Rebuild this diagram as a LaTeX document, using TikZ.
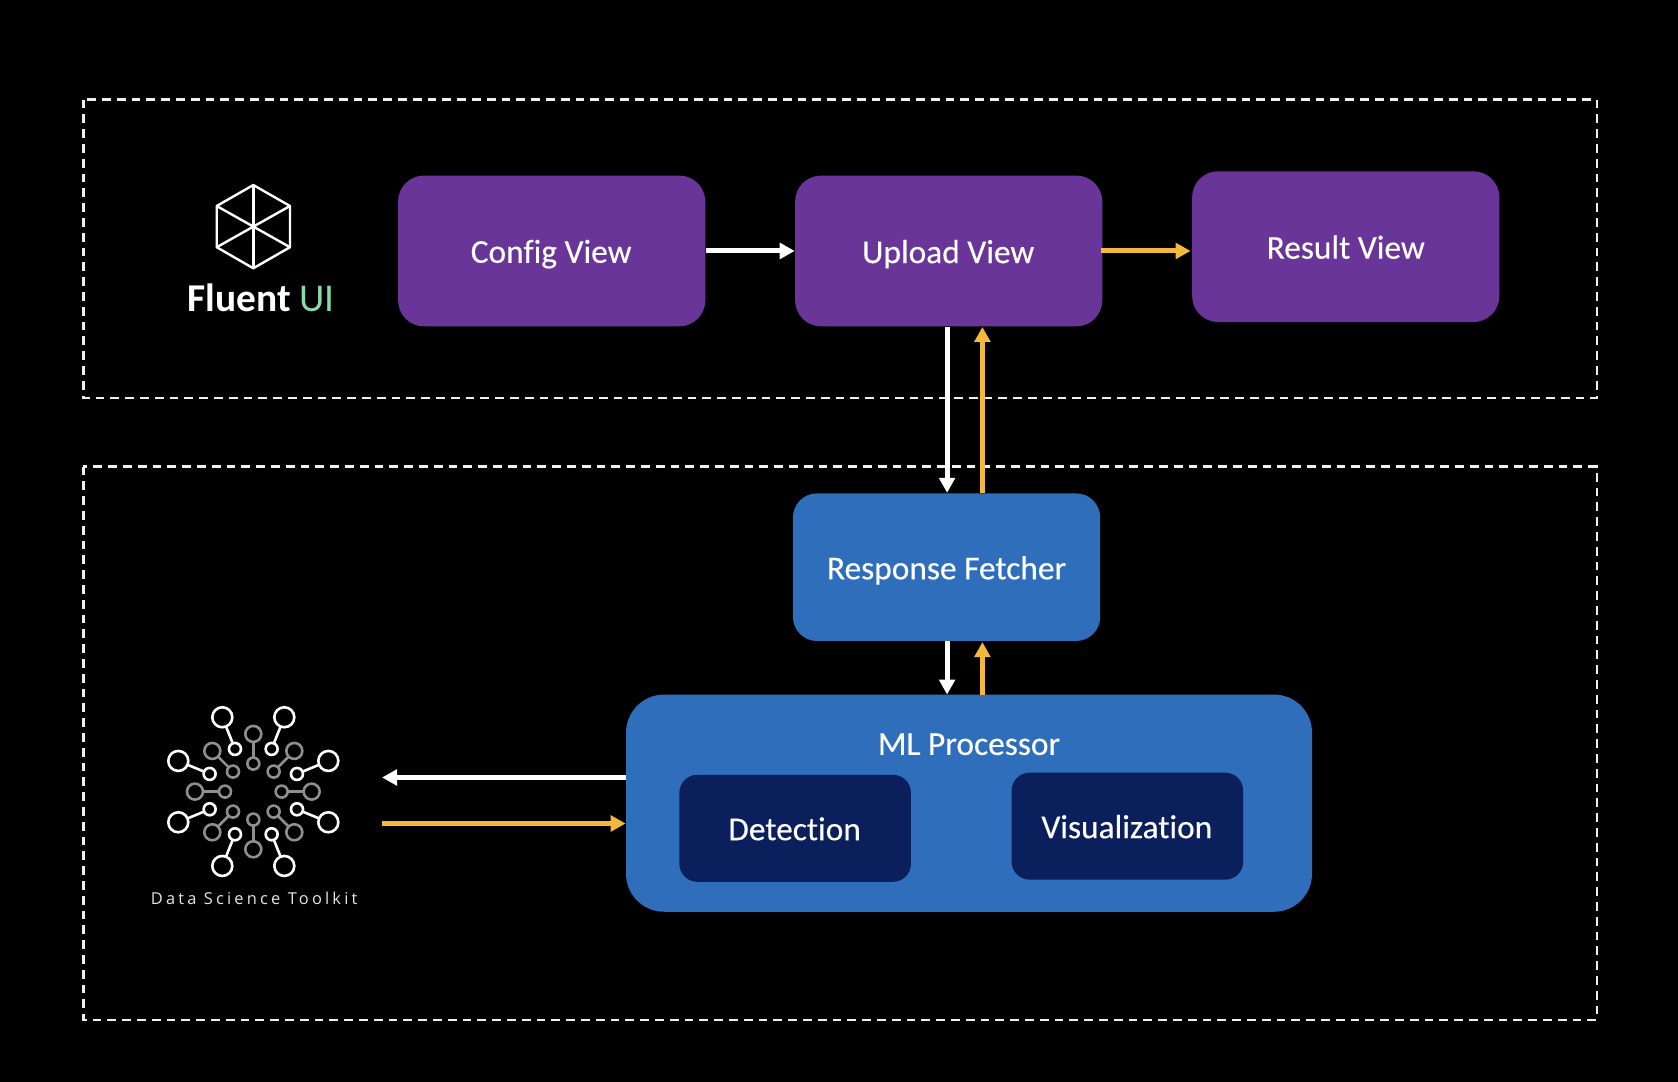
\documentclass[tikz,border=0pt]{standalone}
\usepackage{fontspec}
\usetikzlibrary{arrows.meta}
\setmainfont[Ligatures=CommonOff,FakeBold=0.25]{Carlito}
\newfontfamily\logofont[Ligatures=CommonOff]{Carlito}
\newfontfamily\dsfont[LetterSpace=19.5]{Open Sans}
\definecolor{viewpurple}{HTML}{693599}
\definecolor{procblue}{HTML}{2F6EBA}
\definecolor{navybox}{HTML}{0A1F5C}
\definecolor{flowyellow}{HTML}{F4B93B}
\definecolor{uigreen}{HTML}{8BDBAA}
\definecolor{logogray}{HTML}{8E8E8E}
\definecolor{dashwhite}{HTML}{F0F0F0}
\tikzset{
  x=0.5351pt,y=-0.5351pt,
  boxlabel/.style={text=white,font=\fontsize{16.7}{20}\selectfont,inner sep=0pt},
  viewbox/.style={fill=viewpurple,rounded corners=13pt,minimum width=153.6pt,minimum height=75.4pt,inner sep=0pt},
  fetchbox/.style={fill=procblue,rounded corners=12pt,minimum width=153.6pt,minimum height=73.8pt,inner sep=0pt},
  mlbox/.style={fill=procblue,rounded corners=19pt,minimum width=343pt,minimum height=108.6pt,inner sep=0pt},
  subbox/.style={fill=navybox,rounded corners=9pt,minimum width=115.8pt,minimum height=53.5pt,inner sep=0pt},
  region/.style={draw=dashwhite,line width=1.15pt,dash pattern=on 4.4pt off 3pt},
  flow/.style={line width=2.5pt,-{Triangle[length=7.5pt,width=7.8pt]}},
  whiteflow/.style={flow,draw=white},
  yellowflow/.style={flow,draw=flowyellow},
  hexline/.style={draw=white,line width=1.2pt,line join=round},
}
\begin{document}
\begin{tikzpicture}
\useasboundingbox[fill=black] (0,0) rectangle (1568,1011);
\draw[region] (78,93) rectangle (1492,372);
\draw[region] (78,436) rectangle (1492,953);

\node[viewbox] (config) at (515.5,234.5) {};
\node[boxlabel] (configlabel) at (515,237.5) {Config View};
\node[viewbox] (upload) at (886.5,234.5) {};
\node[boxlabel] (uploadlabel) at (886,237.5) {Upload View};
\node[viewbox] (result) at (1257.5,230.5) {};
\node[boxlabel] (resultlabel) at (1257.5,231) {Result View};
\node[fetchbox] (fetcher) at (884.5,530) {};
\node[boxlabel] (fetcherlabel) at (884.5,533) {Response Fetcher};
\node[mlbox] (ml) at (905.5,750.5) {};
\node[boxlabel] (mllabel) at (905.5,695.5) {ML Processor};
\node[subbox] (detect) at (743,774) {};
\node[boxlabel] (detectlabel) at (742.5,774.5) {Detection};
\node[subbox] (visual) at (1053.5,772) {};
\node[boxlabel] (visuallabel) at (1053,772.5) {Visualization};

% Fluent UI logo
\draw[hexline] (236.7,172.9) -- (271,192.5) -- (271,231) -- (236.7,250.7) -- (202.5,231) -- (202.5,192.5) -- cycle;
\draw[hexline] (236.7,172.9) -- (236.7,250.7);
\draw[hexline] (202.5,192.5) -- (271,231);
\draw[hexline] (202.5,231) -- (271,192.5);
\node[inner sep=0pt,font=\logofont\fontsize{19.7}{23}\selectfont] (fluent) at (244,278) {\textcolor{white}{\textbf{Fluent}} \textcolor{uigreen}{UI}};

% Data Science Toolkit logo
\begin{scope}[shift={(236.7,739.7)},x=0.1667pt,y=-0.1667pt,line width=1.3pt]
  \foreach \bx/\by/\sx/\sy in {-93/-223/-55/-128, 93/-223/55/-128, -93/223/-55/128, 93/223/55/128,
      -225/-92/-131/-53, 225/-92/131/-53, -225/92/-131/53, 225/92/131/53}{
    \draw[white] (\bx,\by) -- (\sx,\sy);
    \draw[white,fill=black] (\bx,\by) circle[radius=30];
    \draw[white,fill=black] (\sx,\sy) circle[radius=18];
  }
  \foreach \bx/\by/\sx/\sy in {0/-173/0/-84, 0/173/0/84, -175/0/-85/0, 175/0/85/0,
      -123/-122/-61/-60, 123/-122/61/-60, -123/122/-61/60, 123/122/61/60}{
    \draw[logogray] (\bx,\by) -- (\sx,\sy);
    \draw[logogray,fill=black] (\bx,\by) circle[radius=24];
    \draw[logogray,fill=black] (\sx,\sy) circle[radius=18];
  }
\end{scope}
\node[inner sep=0pt,text=white!90!black,font=\dsfont\fontsize{8.2}{10}\selectfont] (dstk) at (237.5,839) {Data Science Toolkit};
\coordinate (toolkitin) at (357,726.5);
\coordinate (toolkitout) at (357,769.5);

% connectors
\draw[whiteflow] (config.east) -- (upload.west);
\draw[yellowflow] ([xshift=-1pt]upload.east) -- ([xshift=-0.6pt]result.west |- upload.east);
\draw[whiteflow] (885,305.5) -- (885,460.5);
\draw[yellowflow] (918,461) -- (918,305.5);
\draw[whiteflow] (885,599) -- (885,649);
\draw[yellowflow] (918,649) -- (918,600);
\draw[whiteflow] (ml.west |- toolkitin) -- (toolkitin);
\draw[yellowflow] (toolkitout) -- (ml.west |- toolkitout);
\end{tikzpicture}
\end{document}
